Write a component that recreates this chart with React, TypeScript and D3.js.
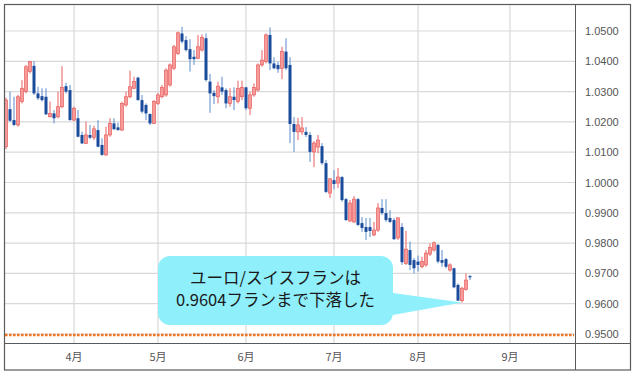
import React from "react";
import * as d3 from "d3";

// ---- data (EUR/CHF daily candles) ----
const startDate = "2022-03-09";
const opens = [
  1.0118, 1.0242, 1.0206, 1.0190, 1.0267, 1.0300, 1.0366, 1.0385, 1.0294, 1.0285,
  1.0283, 1.0217, 1.0228, 1.0217, 1.0250, 1.0318, 1.0305, 1.0206, 1.0212, 1.0157,
  1.0129, 1.0157, 1.0149, 1.0173, 1.0124, 1.0091, 1.0157, 1.0195, 1.0182, 1.0173,
  1.0256, 1.0283, 1.0311, 1.0346, 1.0272, 1.0256, 1.0226, 1.0195, 1.0261, 1.0283,
  1.0289, 1.0322, 1.0377, 1.0426, 1.0492, 1.0470, 1.0440, 1.0415, 1.0410, 1.0437,
  1.0476, 1.0333, 1.0296, 1.0283, 1.0314, 1.0305, 1.0261, 1.0283, 1.0267, 1.0283,
  1.0314, 1.0245, 1.0289, 1.0305, 1.0388, 1.0399, 1.0487, 1.0393, 1.0388, 1.0377,
  1.0432, 1.0388, 1.0193, 1.0167, 1.0167, 1.0167, 1.0157, 1.0101, 1.0117, 1.0120,
  1.0064, 0.9965, 1.0008, 0.9998, 1.0018, 0.9945, 0.9873, 0.9870, 0.9945, 0.9866,
  0.9853, 0.9853, 0.9827, 0.9843, 0.9916, 0.9899, 0.9883, 0.9876, 0.9817, 0.9853,
  0.9733, 0.9777, 0.9744, 0.9739, 0.9722, 0.9728, 0.9764, 0.9777, 0.9794, 0.9744,
  0.9747, 0.9711, 0.9717, 0.9662, 0.9610, 0.9647, 0.9691,
];
const highs = [
  1.0280, 1.0300, 1.0283, 1.0289, 1.0338, 1.0388, 1.0401, 1.0401, 1.0316, 1.0311,
  1.0311, 1.0267, 1.0239, 1.0300, 1.0384, 1.0329, 1.0322, 1.0250, 1.0239, 1.0168,
  1.0201, 1.0190, 1.0187, 1.0206, 1.0146, 1.0184, 1.0212, 1.0212, 1.0197, 1.0267,
  1.0300, 1.0369, 1.0349, 1.0349, 1.0289, 1.0261, 1.0228, 1.0272, 1.0296, 1.0322,
  1.0377, 1.0393, 1.0454, 1.0498, 1.0514, 1.0483, 1.0473, 1.0437, 1.0487, 1.0489,
  1.0492, 1.0358, 1.0305, 1.0333, 1.0349, 1.0311, 1.0311, 1.0314, 1.0336, 1.0336,
  1.0316, 1.0300, 1.0327, 1.0393, 1.0437, 1.0492, 1.0512, 1.0413, 1.0399, 1.0448,
  1.0476, 1.0414, 1.0216, 1.0213, 1.0216, 1.0183, 1.0167, 1.0137, 1.0157, 1.0130,
  1.0074, 1.0015, 1.0041, 1.0048, 1.0021, 0.9949, 0.9942, 0.9955, 0.9949, 0.9886,
  0.9883, 0.9883, 0.9870, 0.9932, 0.9945, 0.9945, 0.9909, 0.9883, 0.9886, 0.9866,
  0.9840, 0.9805, 0.9751, 0.9759, 0.9755, 0.9777, 0.9799, 0.9805, 0.9797, 0.9777,
  0.9751, 0.9733, 0.9719, 0.9667, 0.9656, 0.9700, 0.9695,
];
const lows = [
  1.0110, 1.0200, 1.0186, 1.0184, 1.0261, 1.0294, 1.0360, 1.0289, 1.0272, 1.0267,
  1.0223, 1.0215, 1.0195, 1.0212, 1.0245, 1.0294, 1.0204, 1.0203, 1.0149, 1.0127,
  1.0127, 1.0143, 1.0140, 1.0116, 1.0088, 1.0088, 1.0151, 1.0173, 1.0171, 1.0171,
  1.0250, 1.0278, 1.0308, 1.0270, 1.0228, 1.0206, 1.0190, 1.0193, 1.0256, 1.0278,
  1.0283, 1.0316, 1.0371, 1.0421, 1.0459, 1.0432, 1.0366, 1.0388, 1.0407, 1.0432,
  1.0333, 1.0230, 1.0259, 1.0261, 1.0289, 1.0245, 1.0250, 1.0239, 1.0261, 1.0272,
  1.0239, 1.0223, 1.0283, 1.0300, 1.0382, 1.0393, 1.0371, 1.0374, 1.0362, 1.0341,
  1.0371, 1.0130, 1.0101, 1.0140, 1.0157, 1.0150, 1.0068, 1.0051, 1.0097, 1.0058,
  0.9965, 0.9949, 0.9978, 0.9982, 0.9936, 0.9873, 0.9870, 0.9866, 0.9856, 0.9837,
  0.9810, 0.9820, 0.9823, 0.9837, 0.9893, 0.9870, 0.9866, 0.9810, 0.9810, 0.9728,
  0.9728, 0.9711, 0.9700, 0.9706, 0.9717, 0.9722, 0.9757, 0.9772, 0.9733, 0.9722,
  0.9717, 0.9706, 0.9651, 0.9610, 0.9604, 0.9643, 0.9678,
];
const closes = [
  1.0272, 1.0204, 1.0190, 1.0283, 1.0311, 1.0382, 1.0399, 1.0294, 1.0278, 1.0272,
  1.0225, 1.0228, 1.0212, 1.0250, 1.0314, 1.0300, 1.0206, 1.0245, 1.0151, 1.0129,
  1.0157, 1.0148, 1.0177, 1.0118, 1.0091, 1.0157, 1.0195, 1.0176, 1.0173, 1.0261,
  1.0283, 1.0316, 1.0333, 1.0272, 1.0234, 1.0228, 1.0195, 1.0267, 1.0289, 1.0314,
  1.0371, 1.0388, 1.0448, 1.0494, 1.0465, 1.0437, 1.0407, 1.0407, 1.0448, 1.0479,
  1.0338, 1.0294, 1.0285, 1.0318, 1.0300, 1.0261, 1.0283, 1.0272, 1.0311, 1.0314,
  1.0245, 1.0289, 1.0314, 1.0388, 1.0404, 1.0487, 1.0393, 1.0377, 1.0374, 1.0432,
  1.0377, 1.0193, 1.0167, 1.0190, 1.0180, 1.0157, 1.0101, 1.0130, 1.0140, 1.0064,
  0.9969, 1.0012, 0.9995, 1.0018, 0.9942, 0.9876, 0.9932, 0.9945, 0.9860, 0.9850,
  0.9837, 0.9840, 0.9843, 0.9916, 0.9899, 0.9876, 0.9870, 0.9813, 0.9883, 0.9737,
  0.9780, 0.9728, 0.9717, 0.9728, 0.9739, 0.9767, 0.9786, 0.9801, 0.9739, 0.9735,
  0.9722, 0.9728, 0.9654, 0.9610, 0.9651, 0.9678, 0.9687,
];
const yTicks = [0.95, 0.96, 0.97, 0.98, 0.99, 1.0, 1.01, 1.02, 1.03, 1.04, 1.05];
const monthLabels = ["4月", "5月", "6月", "7月", "8月", "9月"];
const supportLevel = 0.95;
const lowPrice = 0.9604;
const calloutLines = ["ユーロ/スイスフランは", "0.9604フランまで下落した"];

// trading days (weekdays) from the start date
const tradingDays: Date[] = (() => {
  const out: Date[] = [];
  let d = new Date(startDate + "T00:00:00");
  while (out.length < 150) {
    const wd = d.getDay();
    if (wd !== 0 && wd !== 6) out.push(new Date(d));
    d = d3.timeDay.offset(d, 1);
  }
  return out;
})();

export default function App() {
  const W = 636;
  const H = 379;
  const left = 4;
  const plotRight = 575;
  const top = 5;
  const axisY = 343;
  const right = 630;
  const bottom = 370;

  const x = d3.scaleLinear().domain([-0.5, 142.25]).range([left, plotRight]);
  const y = d3.scaleLinear().domain([0.95, 1.05]).range([334, 31]);

  // month ticks: first trading day of each month
  const monthTicks = monthLabels.map((lab, k) => {
    const m = 3 + k; // April = 3
    const idx = tradingDays.findIndex((d) => d.getMonth() === m);
    return { lab, idx };
  });

  const bodyW = 3;
  const upFill = "#f59c9a";
  const upStroke = "#ea5f5f";
  const downFill = "#1b4b9b";
  const downWick = "#5b8ccb";

  const candles = opens.map((o, i) => ({
    i,
    o,
    h: highs[i],
    l: lows[i],
    c: closes[i],
  }));

  // callout geometry
  const bx0 = 158, bx1 = 393, by0 = 256, by1 = 325, r = 12;
  const tipX = x(114), tipY = y(lowPrice);
  const callout = d3.path();
  callout.moveTo(bx0 + r, by0);
  callout.lineTo(bx1 - r, by0);
  callout.arcTo(bx1, by0, bx1, by0 + r, r);
  callout.lineTo(bx1, 293);
  callout.lineTo(tipX, tipY);
  callout.lineTo(bx1, 315);
  callout.lineTo(bx1, by1 - r);
  callout.arcTo(bx1, by1, bx1 - r, by1, r);
  callout.lineTo(bx0 + r, by1);
  callout.arcTo(bx0, by1, bx0, by1 - r, r);
  callout.lineTo(bx0, by0 + r);
  callout.arcTo(bx0, by0, bx0 + r, by0, r);
  callout.closePath();

  const cx = (bx0 + bx1) / 2;

  return (
    <svg
      width={W}
      height={H}
      style={{ position: "absolute", left: 0, top: 0, background: "#fff" }}
    >
      <defs>
        <clipPath id="plotClip">
          <rect x={left + 0.5} y={top} width={plotRight - left - 0.5} height={axisY - top} />
        </clipPath>
      </defs>
      <rect x={0} y={0} width={W} height={H} fill="#fff" />

      {/* grid */}
      <g stroke="#d9d9d9" strokeWidth={1.2}>
        {yTicks.map((t) => (
          <line key={"h" + t} x1={left} x2={plotRight} y1={y(t)} y2={y(t)} />
        ))}
        {monthTicks.map((m) => (
          <line key={"v" + m.lab} x1={x(m.idx)} x2={x(m.idx)} y1={top} y2={axisY} />
        ))}
      </g>

      {/* support dotted line */}
      <line
        x1={left + 1}
        x2={plotRight - 1}
        y1={y(supportLevel) + 1}
        y2={y(supportLevel) + 1}
        stroke="#ef7425"
        strokeWidth={2.6}
        strokeDasharray="2.6,1.4"
      />

      {/* candles */}
      <g clipPath="url(#plotClip)">
        {candles.map((d) => {
          const up = d.c >= d.o;
          const cxp = x(d.i);
          const yt = y(Math.max(d.o, d.c));
          const yb = y(Math.min(d.o, d.c));
          return (
            <g key={d.i}>
              <line
                x1={cxp}
                x2={cxp}
                y1={y(d.h)}
                y2={y(d.l)}
                stroke={up ? upStroke : downWick}
                strokeWidth={1}
              />
              <rect
                x={cxp - bodyW / 2}
                y={yt}
                width={bodyW}
                height={Math.max(1, yb - yt)}
                fill={up ? upFill : downFill}
                stroke={up ? upStroke : downFill}
                strokeWidth={up ? 0.7 : 0}
              />
            </g>
          );
        })}
      </g>

      {/* callout */}
      <path d={callout.toString()} fill="#8ff0fc" />
      <g
        fontFamily="'Noto Sans CJK JP', 'Noto Sans', sans-serif"
        fontSize={16.5}
        fill="#1a1a1a"
        textAnchor="middle"
      >
        <text x={cx} y={284}>{calloutLines[0]}</text>
        <text x={cx} y={306}>{calloutLines[1]}</text>
      </g>

      {/* frame and axes lines */}
      <g stroke="#5a5a5a" fill="none">
        <line x1={left} x2={right} y1={axisY + 0.5} y2={axisY + 0.5} strokeWidth={1} />
        <line x1={plotRight + 0.5} x2={plotRight + 0.5} y1={top} y2={bottom} strokeWidth={1} />
        <rect x={left + 0.5} y={top - 0.5} width={right - left} height={bottom - top + 0.5} strokeWidth={1.2} />
      </g>

      {/* y labels */}
      <g fontFamily="'Liberation Sans', Arial, sans-serif" fontSize={11} fill="#555">
        {yTicks.map((t) => (
          <text key={"yl" + t} x={585} y={y(t) + 4}>
            {d3.format(".4f")(t)}
          </text>
        ))}
      </g>

      {/* x labels */}
      <g
        fontFamily="'Noto Sans CJK JP', 'Liberation Sans', sans-serif"
        fontSize={11}
        fill="#555"
        textAnchor="middle"
      >
        {monthTicks.map((m) => (
          <text key={"xl" + m.lab} x={x(m.idx)} y={361}>
            {m.lab}
          </text>
        ))}
      </g>
    </svg>
  );
}
